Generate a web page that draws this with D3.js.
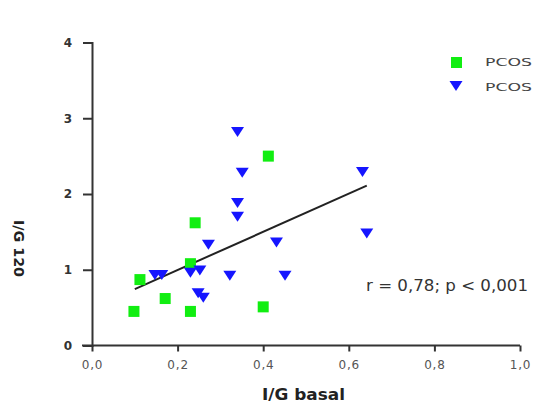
<!DOCTYPE html>
<html>
<head>
<script src="https://d3js.org/d3.v7.min.js"></script>
<style>
  body { margin: 0; background: #fff; }
  text { font-family: "DejaVu Sans", "Liberation Sans", Arial, sans-serif; }
</style>
</head>
<body>
<svg width="533" height="403"></svg>
<script>
// data
const greenX = [0.098, 0.112, 0.171, 0.23, 0.23, 0.241, 0.40, 0.412];
const greenY = [0.45, 0.87, 0.62, 0.45, 1.08, 1.62, 0.51, 2.50];
const blueX = [0.147, 0.163, 0.23, 0.252, 0.272, 0.322, 0.248, 0.26, 0.34, 0.34, 0.34, 0.351, 0.431, 0.451, 0.642, 0.632];
const blueY = [0.93, 0.93, 0.96, 0.99, 1.33, 0.92, 0.69, 0.63, 1.88, 1.70, 2.82, 2.28, 1.36, 0.92, 1.48, 2.29];
const fitX = [0.1, 0.642];
const fitY = [0.745, 2.11];
const xTicks = [0, 0.2, 0.4, 0.6, 0.8, 1.0];
const yTicks = [0, 1, 2, 3, 4];
const legendLabels = ["PCOS", "PCOS"];

const svg = d3.select("svg");
const x = d3.scaleLinear().domain([0, 1]).range([92, 520]);
const y = d3.scaleLinear().domain([0, 4]).range([345.5, 42.5]);

// axes
const gx = svg.append("g")
  .attr("transform", "translate(0,345.5)")
  .call(d3.axisBottom(x).tickValues(xTicks).tickSize(6).tickPadding(9)
    .tickFormat(d => d3.format(".1f")(d).replace(".", ",")));
const gy = svg.append("g")
  .attr("transform", "translate(92,0)")
  .call(d3.axisLeft(y).tickValues(yTicks).tickSize(9).tickPadding(11)
    .tickFormat(d3.format("d")));
[gx, gy].forEach(g => {
  g.select(".domain").attr("stroke", "#333").attr("stroke-width", 2);
  g.selectAll(".tick line").attr("stroke", "#333").attr("stroke-width", 2);
  g.selectAll(".tick text").attr("fill", "#555").style("font-size", "12px")
    .style("font-family", "DejaVu Sans");
});
gx.selectAll(".tick text").attr("letter-spacing", 0.8);
gy.selectAll(".tick text").style("font-weight", "bold").attr("fill", "#333");
gx.select(".domain").attr("d", "M82,0H520");

// regression line
svg.append("line")
  .attr("x1", x(fitX[0])).attr("y1", y(fitY[0]))
  .attr("x2", x(fitX[1])).attr("y2", y(fitY[1]))
  .attr("stroke", "#222").attr("stroke-width", 2);

// green squares
const sq = 11;
svg.selectAll(".sq")
  .data(greenX.map((d, i) => [d, greenY[i]]))
  .enter().append("rect")
  .attr("x", d => x(d[0]) - sq / 2)
  .attr("y", d => y(d[1]) - sq / 2)
  .attr("width", sq).attr("height", sq)
  .attr("fill", "#11ee11");

// blue triangles
const tri = d => {
  const cx = x(d[0]), cy = y(d[1]);
  return `M${cx - 6.5},${cy - 5}L${cx + 6.5},${cy - 5}L${cx},${cy + 5}Z`;
};
svg.selectAll(".tri")
  .data(blueX.map((d, i) => [d, blueY[i]]))
  .enter().append("path")
  .attr("d", tri)
  .attr("fill", "#1515ff");

// legend
svg.append("rect").attr("x", 451).attr("y", 57).attr("width", sq).attr("height", sq).attr("fill", "#11ee11");
svg.append("path").attr("d", "M449.5,81L462.5,81L456,91Z").attr("fill", "#1515ff");
svg.selectAll(".leg")
  .data(legendLabels)
  .enter().append("text")
  .attr("x", 485).attr("y", (d, i) => 66 + i * 25)
  .attr("fill", "#444").style("font-size", "11px")
  .attr("textLength", 47).attr("lengthAdjust", "spacingAndGlyphs")
  .text(d => d);

// annotation
svg.append("text")
  .attr("x", 366).attr("y", 291)
  .attr("fill", "#333").style("font-size", "16px")
  .attr("textLength", 162).attr("lengthAdjust", "spacingAndGlyphs")
  .text("r = 0,78; p < 0,001");

// axis titles
svg.append("text")
  .attr("x", 262).attr("y", 400)
  .style("font-size", "15px").style("font-weight", "bold").attr("fill", "#222")
  .attr("textLength", 83).attr("lengthAdjust", "spacingAndGlyphs")
  .text("I/G basal");
svg.append("text")
  .attr("transform", "translate(14,220) rotate(90)")
  .style("font-size", "14px").style("font-weight", "bold").attr("fill", "#222")
  .attr("textLength", 57).attr("lengthAdjust", "spacingAndGlyphs")
  .text("I/G 120");
</script>
</body>
</html>
